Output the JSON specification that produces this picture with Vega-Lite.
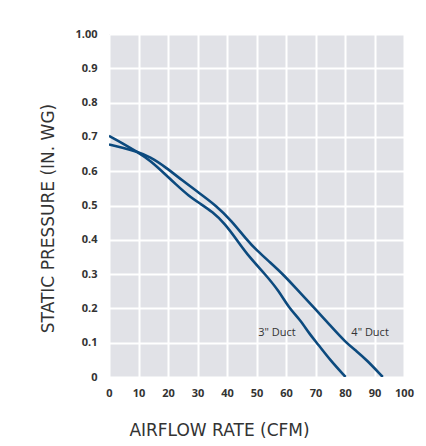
{
  "$schema": "https://vega.github.io/schema/vega-lite/v6.json",
  "width": 295,
  "height": 343,
  "autosize": {"type": "none"},
  "padding": {"left": 109, "top": 34, "right": 22, "bottom": 69},
  "background": "white",
  "config": {
    "view": {"fill": "#e1e2e7", "stroke": null},
    "font": "Open Sans",
    "axis": {
      "grid": true,
      "gridColor": "white",
      "gridWidth": 2,
      "gridOpacity": 1,
      "domain": false,
      "ticks": false,
      "labelFont": "Open Sans",
      "labelFontWeight": "bold",
      "labelFontSize": 11,
      "labelColor": "#333333",
      "labelAngle": 0,
      "labelOverlap": false,
      "titleFont": "DejaVu Sans",
      "titleFontWeight": "normal",
      "titleFontSize": 17,
      "titleColor": "#333333"
    }
  },
  "datasets": {
    "curves": [
      {"duct": "3\" Duct", "cfm": 0, "pressure": 0.703},
      {"duct": "3\" Duct", "cfm": 4.5, "pressure": 0.682},
      {"duct": "3\" Duct", "cfm": 9.4, "pressure": 0.657},
      {"duct": "3\" Duct", "cfm": 13.9, "pressure": 0.632},
      {"duct": "3\" Duct", "cfm": 19.3, "pressure": 0.589},
      {"duct": "3\" Duct", "cfm": 22.5, "pressure": 0.563},
      {"duct": "3\" Duct", "cfm": 27, "pressure": 0.528},
      {"duct": "3\" Duct", "cfm": 31, "pressure": 0.505},
      {"duct": "3\" Duct", "cfm": 35, "pressure": 0.482},
      {"duct": "3\" Duct", "cfm": 39.3, "pressure": 0.447},
      {"duct": "3\" Duct", "cfm": 43.3, "pressure": 0.4},
      {"duct": "3\" Duct", "cfm": 47.5, "pressure": 0.35},
      {"duct": "3\" Duct", "cfm": 52.9, "pressure": 0.3},
      {"duct": "3\" Duct", "cfm": 57.5, "pressure": 0.252},
      {"duct": "3\" Duct", "cfm": 61.1, "pressure": 0.2},
      {"duct": "3\" Duct", "cfm": 64.7, "pressure": 0.168},
      {"duct": "3\" Duct", "cfm": 68, "pressure": 0.125},
      {"duct": "3\" Duct", "cfm": 70.9, "pressure": 0.095},
      {"duct": "3\" Duct", "cfm": 74.9, "pressure": 0.05},
      {"duct": "3\" Duct", "cfm": 80.2, "pressure": 0},
      {"duct": "4\" Duct", "cfm": 0, "pressure": 0.678},
      {"duct": "4\" Duct", "cfm": 4.5, "pressure": 0.669},
      {"duct": "4\" Duct", "cfm": 9.4, "pressure": 0.657},
      {"duct": "4\" Duct", "cfm": 13.9, "pressure": 0.642},
      {"duct": "4\" Duct", "cfm": 19.3, "pressure": 0.611},
      {"duct": "4\" Duct", "cfm": 25, "pressure": 0.572},
      {"duct": "4\" Duct", "cfm": 30.5, "pressure": 0.537},
      {"duct": "4\" Duct", "cfm": 36.3, "pressure": 0.5},
      {"duct": "4\" Duct", "cfm": 41.5, "pressure": 0.456},
      {"duct": "4\" Duct", "cfm": 46.7, "pressure": 0.4},
      {"duct": "4\" Duct", "cfm": 50, "pressure": 0.37},
      {"duct": "4\" Duct", "cfm": 54.5, "pressure": 0.335},
      {"duct": "4\" Duct", "cfm": 59.3, "pressure": 0.297},
      {"duct": "4\" Duct", "cfm": 64.5, "pressure": 0.248},
      {"duct": "4\" Duct", "cfm": 69.8, "pressure": 0.2},
      {"duct": "4\" Duct", "cfm": 75, "pressure": 0.15},
      {"duct": "4\" Duct", "cfm": 80.1, "pressure": 0.102},
      {"duct": "4\" Duct", "cfm": 84, "pressure": 0.075},
      {"duct": "4\" Duct", "cfm": 87.3, "pressure": 0.05},
      {"duct": "4\" Duct", "cfm": 92.8, "pressure": 0}
    ],
    "ductLabels": [
      {"duct": "3\" Duct", "cfm": 56.9, "pressure": 0.127},
      {"duct": "4\" Duct", "cfm": 88.5, "pressure": 0.127}
    ]
  },
  "encoding": {
    "x": {
      "field": "cfm", "type": "quantitative",
      "scale": {"domain": [0, 100], "nice": false, "zero": false},
      "axis": {"values": [0,10,20,30,40,50,60,70,80,90,100], "labelPadding": 10, "title": "AIRFLOW RATE (CFM)", "titlePadding": 24, "titleX": 110, "titleAlign": "center", "labelFlush": false}
    },
    "y": {
      "field": "pressure", "type": "quantitative",
      "scale": {"domain": [0, 1], "nice": false},
      "axis": {
        "values": [0,0.1,0.2,0.3,0.4,0.5,0.6,0.7,0.8,0.9,1],
        "labelExpr": "datum.value == 1 ? '1.00' : datum.value == 0 ? '0' : format(datum.value, '.1f')",
        "labelPadding": 12,
        "labelFlush": false,
        "title": "STATIC PRESSURE (IN. WG)",
        "titlePadding": 17,
        "titleY": 184,
        "titleAlign": "center"
      }
    }
  },
  "layer": [
    {
      "data": {"name": "curves"},
      "mark": {"type": "line", "interpolate": "basis", "color": "#0c4a7e", "strokeWidth": 2.6, "clip": true},
      "encoding": {
        "detail": {"field": "duct", "type": "nominal"}
      }
    },
    {
      "data": {"name": "ductLabels"},
      "mark": {"type": "text", "font": "Open Sans", "fontSize": 11, "color": "#333333", "align": "center", "baseline": "middle"},
      "encoding": {
        "text": {"field": "duct", "type": "nominal"}
      }
    }
  ]
}
